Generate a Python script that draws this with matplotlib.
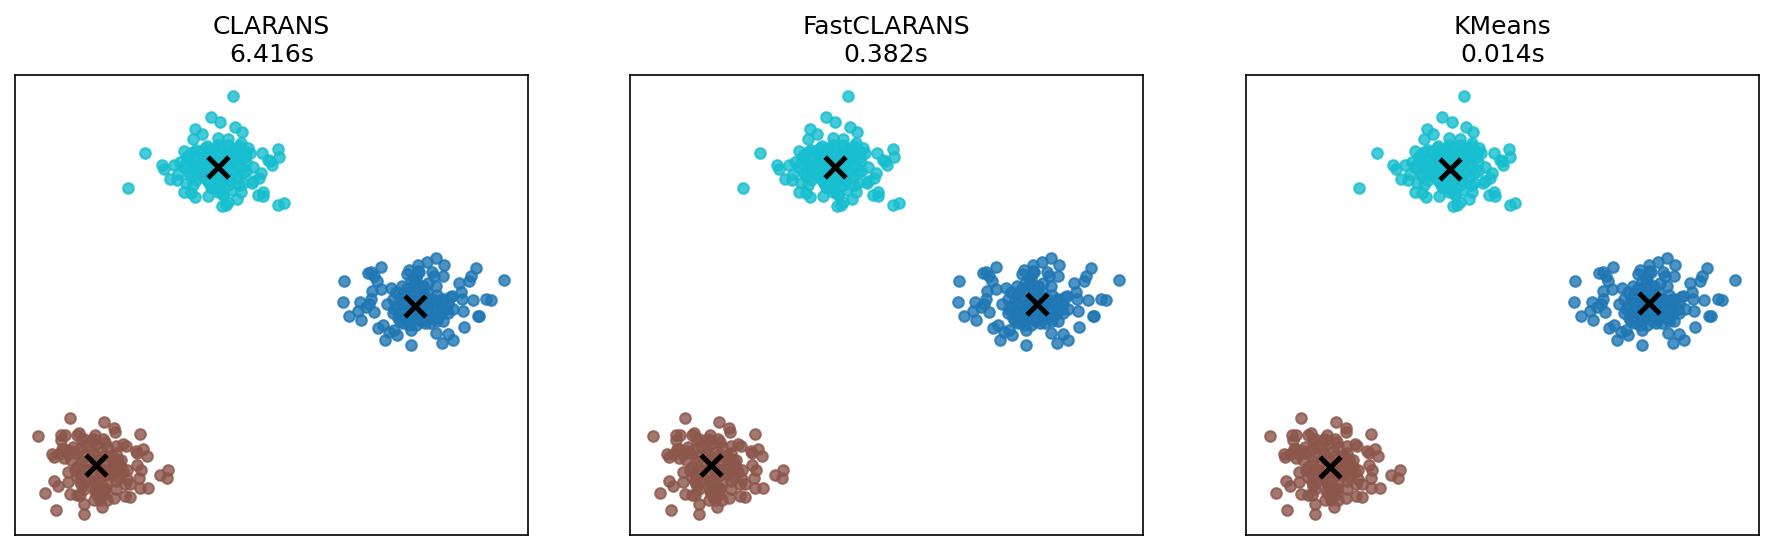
"""
Comparaison CLARANS / FastCLARANS / KMeans sur trois groupes de points.
Les points sont les mêmes sur les trois panneaux, seuls les centres changent.
"""
import numpy as np
import matplotlib
matplotlib.use("Agg")
import matplotlib.pyplot as plt

W, H = 1773, 551
DPI = 150

titles = ["CLARANS\n6.416s", "FastCLARANS\n0.382s", "KMeans\n0.014s"]
left_px = [14.6, 629.6, 1246.0]

cyan_x = [652, 591, 617, 657, 677, 547, 565, 540, 407, 358, 778, 781, 735, 761, 752, 757,
          454, 460, 487, 476, 495, 515, 545, 535, 582, 622, 632, 640, 665, 675, 722, 737,
          738, 780, 795, 710, 705, 725, 730, 710, 690, 700, 695, 675, 640, 610, 575, 515,
          505, 500, 520, 540, 610, 625, 670, 680, 600,
          530, 560, 590, 620, 650, 680, 540, 570, 600, 630, 660, 690, 530, 560, 590, 620,
          650, 680, 550, 580, 610, 640, 665, 590, 615, 640, 520, 555, 645, 610,
          545, 575, 605, 635, 665, 545, 575, 605, 635, 665, 565, 595, 625, 655, 600, 625,
          525, 515, 550, 580, 610, 640, 670, 685, 535, 565, 595, 625, 655, 675, 555, 585,
          615, 645, 575, 605, 635, 615, 625, 595, 540, 660, 690, 580, 650]
cyan_y = [270, 331, 345, 359, 375, 364, 378, 394, 433, 533, 422, 444, 435, 468, 455, 457,
          467, 478, 468, 508, 510, 545, 560, 548, 556, 585, 582, 575, 565, 545, 554, 545,
          556, 583, 577, 515, 520, 505, 490, 475, 485, 435, 420, 405, 393, 392, 420, 428,
          460, 495, 520, 525, 545, 550, 525, 520, 420,
          440, 430, 425, 420, 425, 435, 470, 460, 450, 445, 450, 460, 490, 490, 480, 475,
          480, 490, 510, 510, 505, 500, 505, 530, 525, 525, 465, 450, 465, 470,
          455, 445, 435, 435, 440, 480, 475, 465, 460, 465, 500, 495, 490, 490, 515, 510,
          445, 475, 425, 415, 410, 410, 415, 445, 500, 475, 440, 455, 430, 470, 470, 520,
          485, 510, 450, 500, 470, 540, 555, 535, 430, 420, 430, 490, 540]

blue_x = [963, 960, 978, 1012, 1004, 1009, 1047, 1058, 1072, 1079, 1112, 1150, 1222, 1237,
          1254, 1269, 1299, 1339, 1343, 1297, 1325, 1362, 1374, 1412, 1332, 1318, 1313,
          1285, 1290, 1293, 1068, 1030, 1040, 1048, 1055, 1041, 1067, 1040, 1035, 1025,
          1145, 1170, 1195, 1221, 1243, 1210, 1240, 1215, 1160, 1220, 1265, 1240, 1270,
          1240, 1190, 1150, 1105, 1090, 1085, 1100, 1095, 1125,
          1110, 1140, 1170, 1195, 1120, 1150, 1180, 1210, 1235, 1110, 1140, 1170, 1200,
          1225, 1120, 1150, 1180, 1210, 1235, 1130, 1165, 1205, 1260, 1250, 1160,
          1125, 1155, 1185, 1130, 1160, 1190, 1220, 1135, 1165, 1195, 1150, 1180, 1165, 1175,
          1100, 1130, 1160, 1190, 1225, 1255, 1105, 1135, 1165, 1195, 1225, 1255, 1115,
          1145, 1175, 1205, 1235, 1120, 1150, 1190, 1225, 1185, 1150, 1200, 1140, 1170]
blue_y = [798, 860, 900, 912, 885, 860, 888, 933, 925, 967, 955, 981, 947, 976,
          952, 968, 932, 900, 900, 885, 855, 850, 855, 796, 762, 785, 800,
          805, 830, 852, 758, 777, 775, 785, 798, 827, 823, 850, 865, 875,
          767, 770, 745, 734, 754, 775, 785, 785, 790, 815, 843, 850, 880,
          915, 920, 938, 940, 945, 865, 890, 820, 815,
          830, 820, 810, 830, 850, 840, 845, 850, 870, 870, 870, 880, 875,
          885, 895, 900, 905, 900, 895, 920, 925, 920, 845, 880, 810,
          840, 830, 830, 865, 855, 860, 865, 885, 890, 890, 915, 915, 790, 775,
          850, 835, 865, 845, 840, 865, 880, 905, 895, 905, 915, 890, 905,
          925, 895, 860, 855, 915, 875, 880, 905, 815, 800, 805, 780, 755]

brown_x = [195, 292, 320, 321, 107, 170, 182, 172, 222, 215, 267, 290, 391, 345, 352, 380,
           402, 411, 385, 147, 150, 180, 385, 395, 390, 448, 471, 468, 415, 392, 365, 350,
           152, 163, 125, 157, 234, 234, 287, 195, 215, 225, 262, 320, 350, 365, 325, 190,
           190, 225,
           210, 240, 270, 300, 325, 340, 200, 230, 260, 290, 315, 215, 245, 280, 310, 345,
           225, 260, 295, 330, 240, 270, 300, 270, 290, 300, 280, 180, 190, 165,
           225, 255, 285, 315, 230, 265, 300, 330, 245, 280, 315, 285, 265, 295,
           205, 235, 265, 295, 325, 210, 240, 270, 300, 330, 215, 250, 285, 320, 355, 235,
           265, 295, 325, 355, 275, 295, 175, 200, 230, 260, 310, 340, 230, 280]
brown_y = [1192, 1202, 1218, 1232, 1243, 1240, 1240, 1255, 1235, 1238, 1240, 1250, 1237,
           1265, 1270, 1285, 1280, 1300, 1290, 1295, 1303, 1280, 1325, 1340, 1362, 1354,
           1339, 1363, 1392, 1390, 1380, 1380, 1372, 1385, 1404, 1453, 1466, 1437, 1445,
           1408, 1410, 1412, 1425, 1420, 1415, 1417, 1395, 1375, 1345, 1375,
           1290, 1270, 1265, 1275, 1290, 1310, 1310, 1300, 1295, 1300, 1310, 1330, 1325,
           1330, 1335, 1345, 1350, 1355, 1355, 1360, 1375, 1385, 1375, 1405, 1410, 1425,
           1425, 1305, 1295, 1295,
           1280, 1280, 1285, 1300, 1315, 1310, 1320, 1325, 1340, 1345, 1350, 1390, 1370, 1395,
           1275, 1250, 1255, 1260, 1270, 1340, 1340, 1310, 1340, 1310, 1360, 1365, 1340, 1345,
           1340, 1395, 1400, 1395, 1370, 1365, 1415, 1395, 1280, 1285, 1255, 1250, 1300, 1330,
           1385, 1370]

# centres (un par algorithme)
center_x = [[612, 1163, 270], [615, 1181, 270], [611, 1170, 275]]
center_y = [[473, 871, 1325], [473, 866, 1325], [478, 861, 1331]]

clusters = [(cyan_x, cyan_y, "#17becf"), (blue_x, blue_y, "#1f77b4"), (brown_x, brown_y, "#8c564b")]

fig = plt.figure(figsize=(W / DPI, H / DPI), dpi=DPI)
ax_w = 513.4 / W
ax_h = 460.3 / H
ax_b = (H - 535.0) / H

for k in range(3):
    ax = fig.add_axes([left_px[k] / W, ax_b, ax_w, ax_h])
    for cx, cy, col in clusters:
        ax.scatter(cx, cy, s=26, color=col, alpha=0.8)
    ax.scatter(center_x[k], center_y[k], marker="x", s=100, color="black", linewidths=2.4, zorder=3)
    ax.set_xlim(41, 1479)
    ax.set_ylim(1525, 210)
    ax.set_xticks([])
    ax.set_yticks([])
    ax.set_title(titles[k], fontsize=12)

plt.savefig("out.png", dpi=DPI)
